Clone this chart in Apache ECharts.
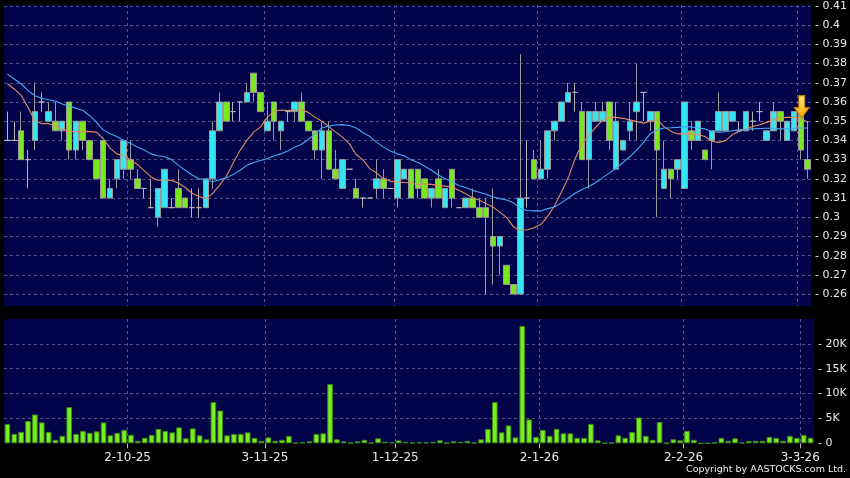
<!DOCTYPE html>
<html><head><meta charset="utf-8">
<script src="https://cdn.jsdelivr.net/npm/echarts@6/dist/echarts.min.js"></script>
<style>html,body{margin:0;padding:0;background:#000;}#c{width:850px;height:478px;}</style>
</head><body><div id="c"></div>
<script>
// trading days (D-M-YY)
const dates = [
'5-9-25','8-9-25','9-9-25','10-9-25','11-9-25','12-9-25','15-9-25','16-9-25','17-9-25','18-9-25','19-9-25',
'22-9-25','23-9-25','24-9-25','25-9-25','26-9-25','29-9-25','30-9-25',
'2-10-25','3-10-25','6-10-25','8-10-25','9-10-25','10-10-25','13-10-25','14-10-25','15-10-25','16-10-25','17-10-25',
'20-10-25','21-10-25','22-10-25','23-10-25','24-10-25','27-10-25','28-10-25','30-10-25','31-10-25',
'3-11-25','4-11-25','5-11-25','6-11-25','7-11-25','10-11-25','11-11-25','12-11-25','13-11-25','14-11-25',
'17-11-25','18-11-25','19-11-25','20-11-25','21-11-25','24-11-25','25-11-25','26-11-25','27-11-25',
'1-12-25','2-12-25','3-12-25','4-12-25','5-12-25','8-12-25','9-12-25','10-12-25','11-12-25','12-12-25',
'15-12-25','16-12-25','17-12-25','18-12-25','19-12-25','22-12-25','23-12-25','24-12-25','29-12-25','30-12-25','31-12-25',
'2-1-26','5-1-26','6-1-26','7-1-26','8-1-26','9-1-26','12-1-26','13-1-26','14-1-26','15-1-26','16-1-26',
'19-1-26','20-1-26','21-1-26','22-1-26','23-1-26','26-1-26','27-1-26','28-1-26','29-1-26','30-1-26',
'2-2-26','3-2-26','4-2-26','5-2-26','6-2-26','9-2-26','10-2-26','11-2-26','12-2-26','13-2-26','16-2-26','20-2-26',
'23-2-26','24-2-26','25-2-26','26-2-26','27-2-26','3-3-26','4-3-26'
];
const monthStarts = ['2-10-25','3-11-25','1-12-25','2-1-26','2-2-26','3-3-26'];

const open = [
0.34,0.34,0.345,0.33,0.34,0.36,0.35,0.35,0.345,0.36,
0.335,0.35,0.34,0.33,0.34,0.31,0.32,0.325,0.33,0.32,
0.315,0.305,0.30,0.305,0.305,0.315,0.31,0.305,0.305,0.305,
0.32,0.345,0.36,0.355,0.36,0.36,0.375,0.365,0.345,0.36,
0.345,0.355,0.355,0.36,0.35,0.345,0.335,0.345,0.325,0.315,
0.325,0.315,0.31,0.31,0.315,0.32,0.315,0.31,0.32,0.325,
0.325,0.32,0.31,0.32,0.305,0.325,0.305,0.305,0.31,0.305,
0.305,0.29,0.285,0.275,0.265,0.26,0.31,0.33,0.32,0.325,
0.345,0.35,0.36,0.365,0.355,0.33,0.35,0.35,0.36,0.325,
0.335,0.345,0.355,0.365,0.35,0.355,0.315,0.325,0.325,0.315,
0.345,0.34,0.335,0.34,0.345,0.345,0.35,0.345,0.345,0.35,
0.355,0.34,0.345,0.355,0.34,0.345,0.355,0.33];
const close = [
0.34,0.34,0.33,0.33,0.355,0.36,0.355,0.345,0.35,0.335,
0.35,0.34,0.33,0.32,0.31,0.315,0.33,0.34,0.325,0.315,
0.315,0.305,0.315,0.325,0.305,0.305,0.305,0.305,0.305,0.32,
0.345,0.36,0.35,0.355,0.36,0.365,0.365,0.355,0.35,0.35,
0.35,0.355,0.36,0.35,0.345,0.335,0.345,0.325,0.32,0.33,
0.325,0.31,0.31,0.31,0.32,0.315,0.315,0.33,0.325,0.31,
0.315,0.31,0.315,0.31,0.315,0.31,0.305,0.31,0.305,0.30,
0.30,0.285,0.29,0.265,0.26,0.31,0.31,0.32,0.325,0.345,
0.35,0.36,0.365,0.365,0.33,0.355,0.355,0.355,0.34,0.35,
0.34,0.35,0.36,0.365,0.355,0.335,0.325,0.32,0.33,0.36,
0.34,0.35,0.33,0.345,0.355,0.355,0.355,0.345,0.355,0.35,
0.355,0.345,0.355,0.35,0.35,0.355,0.335,0.325];
const low = [
0.34,0.34,0.33,0.315,0.335,0.355,0.35,0.345,0.34,0.33,
0.33,0.335,0.33,0.32,0.31,0.31,0.315,0.32,0.32,0.315,
0.31,0.305,0.295,0.305,0.305,0.305,0.305,0.30,0.30,0.305,
0.315,0.345,0.35,0.35,0.35,0.36,0.36,0.355,0.345,0.34,
0.335,0.35,0.35,0.35,0.345,0.33,0.32,0.325,0.32,0.315,
0.325,0.31,0.305,0.31,0.31,0.31,0.315,0.305,0.32,0.31,
0.31,0.31,0.305,0.31,0.305,0.305,0.305,0.305,0.305,0.30,
0.26,0.265,0.27,0.265,0.26,0.26,0.305,0.32,0.32,0.32,
0.34,0.35,0.36,0.355,0.33,0.315,0.35,0.35,0.335,0.325,
0.335,0.34,0.34,0.35,0.345,0.30,0.315,0.31,0.32,0.315,
0.335,0.34,0.33,0.325,0.345,0.345,0.35,0.345,0.345,0.345,
0.35,0.34,0.345,0.34,0.34,0.345,0.33,0.32];
const high = [
0.355,0.35,0.355,0.335,0.37,0.365,0.36,0.36,0.35,0.36,
0.35,0.35,0.34,0.33,0.34,0.32,0.33,0.34,0.34,0.325,
0.315,0.32,0.315,0.325,0.31,0.325,0.31,0.315,0.315,0.32,
0.35,0.365,0.36,0.36,0.36,0.37,0.375,0.365,0.36,0.36,
0.35,0.355,0.36,0.365,0.35,0.345,0.35,0.35,0.335,0.33,
0.325,0.32,0.31,0.31,0.33,0.325,0.315,0.33,0.325,0.325,
0.325,0.32,0.315,0.325,0.315,0.325,0.305,0.31,0.315,0.31,
0.31,0.315,0.29,0.275,0.265,0.385,0.34,0.335,0.34,0.345,
0.35,0.36,0.37,0.37,0.36,0.355,0.36,0.36,0.36,0.36,
0.34,0.36,0.38,0.365,0.355,0.355,0.34,0.325,0.33,0.36,
0.35,0.35,0.335,0.345,0.365,0.355,0.355,0.35,0.355,0.355,
0.36,0.345,0.36,0.355,0.35,0.355,0.355,0.35];

// moving averages
const ma10 = [
0.3695,0.3668,0.3635,0.3572,0.3505,0.3487,0.3488,0.3475,0.3458,0.3447,
0.3446,0.3447,0.3446,0.3443,0.341,0.336,0.333,0.332,0.3298,0.3275,
0.3243,0.321,0.3193,0.3193,0.3192,0.3178,0.3155,0.3125,0.3108,0.3098,
0.3123,0.3166,0.3212,0.3282,0.3347,0.340,0.3443,0.3469,0.352,0.3553,
0.3558,0.3555,0.3558,0.3558,0.3546,0.352,0.35,0.3472,0.3443,0.3417,
0.3382,0.3327,0.3299,0.3252,0.323,0.32,0.3188,0.3183,0.3181,0.3178,
0.3169,0.3174,0.3171,0.3166,0.3162,0.3157,0.314,0.3123,0.3102,0.3088,
0.3071,0.3053,0.3027,0.2998,0.295,0.2932,0.2935,0.2945,0.2963,0.3005,
0.306,0.313,0.3205,0.3305,0.338,0.3425,0.3468,0.3505,0.352,0.352,
0.3515,0.3507,0.3498,0.349,0.35,0.351,0.3472,0.3448,0.3434,0.3434,
0.3434,0.343,0.342,0.3396,0.339,0.3399,0.343,0.3448,0.346,0.3472,
0.3482,0.3494,0.3507,0.3517,0.352,0.352,0.3515,0.3495];
const ma20 = [
0.3745,0.372,0.3695,0.366,0.3633,0.362,0.3612,0.3605,0.359,0.3578,
0.3568,0.3557,0.353,0.3495,0.3455,0.3435,0.342,0.340,0.3385,0.3365,
0.335,0.333,0.332,0.3315,0.330,0.327,0.3245,0.322,0.320,0.3195,
0.3185,0.3195,0.3205,0.3222,0.3245,0.327,0.3285,0.3295,0.3305,0.332,
0.333,0.3345,0.3365,0.338,0.3405,0.3435,0.3465,0.3475,0.348,0.3482,
0.3478,0.3465,0.344,0.342,0.339,0.3365,0.3345,0.333,0.332,0.330,
0.3285,0.3265,0.3245,0.322,0.320,0.3185,0.3165,0.3155,0.314,0.313,
0.312,0.3105,0.3097,0.309,0.3075,0.3045,0.3035,0.3033,0.3033,0.3045,
0.3053,0.3075,0.310,0.3125,0.3145,0.316,0.318,0.3205,0.323,0.3255,
0.3285,0.3315,0.335,0.339,0.3435,0.3455,0.3465,0.3466,0.3468,0.3472,
0.347,0.3465,0.346,0.3445,0.3443,0.3445,0.345,0.3455,0.3458,0.346,
0.3462,0.3463,0.3463,0.346,0.346,0.3462,0.3465,0.3465];

const volume = [
3900,1900,2300,4500,5800,4200,2300,700,1500,7300,
1900,2500,2100,2400,4200,1600,2100,2700,1700,500,
1100,1700,2900,2500,2200,3200,1000,3000,1600,800,
8300,6600,1600,1900,1900,2200,1100,500,1200,500,
700,1500,100,200,400,1900,2000,11900,800,400,
100,400,700,100,1000,300,200,600,300,100,
200,200,300,600,50,400,300,500,100,800,
2900,8300,2200,3600,1200,23600,4800,1300,2700,1500,
2900,2000,2000,1100,1100,3900,600,50,100,1600,
1100,2300,5200,1500,700,4300,50,800,600,2500,
700,0,0,100,1100,500,1000,100,500,500,
500,1300,1100,500,1500,1100,1700,1100];

const priceTicks = [0.26,0.27,0.28,0.29,0.30,0.31,0.32,0.33,0.34,0.35,0.36,0.37,0.38,0.39,0.40,0.41];
const arrowDate = '3-3-26';
const copyright = 'Copyright by AASTOCKS.com Ltd.';

const ohlc = dates.map((d, i) => [open[i], close[i], low[i], high[i]]);
const isMonthStart = (idx, val) => monthStarts.indexOf(val) >= 0;
const gridColor = '#50528a';
const labelColor = '#e8e8e8';
const FONT = 'DejaVu Sans';
const panelBg = '#03034a';
const arrowIdx = dates.indexOf(arrowDate);

const chart = echarts.init(document.getElementById('c'), null, {renderer: 'canvas'});
const splitCfg = {show: true, interval: isMonthStart, showMaxLine: false, lineStyle: {color: gridColor, type: [3, 3], width: 1}};
chart.setOption({
  backgroundColor: '#000',
  animation: false,
  grid: [
    {left: 4, right: 36, top: 5, height: 301, show: true, backgroundColor: panelBg, borderWidth: 0},
    {left: 4, right: 36, top: 319, height: 124.3, show: true, backgroundColor: panelBg, borderWidth: 0}
  ],
  xAxis: [
    {type: 'category', gridIndex: 0, data: dates, boundaryGap: true,
     axisLine: {show: false}, axisTick: {show: false}, axisLabel: {show: false}, splitLine: splitCfg},
    {type: 'category', gridIndex: 1, data: dates, boundaryGap: true,
     axisLine: {show: false}, axisTick: {show: false}, axisLabel: {show: false}, splitLine: splitCfg},
    {type: 'category', gridIndex: 1, data: dates.concat(['']), boundaryGap: false, position: 'bottom',
     axisLine: {show: false},
     axisTick: {show: true, interval: isMonthStart, length: 5, lineStyle: {color: '#bbbbbb'}},
     axisLabel: {show: true, interval: isMonthStart, color: labelColor, fontSize: 12, fontFamily: FONT, margin: 9},
     splitLine: {show: false}}
  ],
  yAxis: [
    {type: 'value', gridIndex: 0, position: 'right', min: 0.2538, max: 0.4105, scale: true,
     axisLine: {show: false},
     axisTick: {show: false, customValues: priceTicks},
     axisLabel: {customValues: priceTicks, color: labelColor, fontSize: 11, fontFamily: FONT, margin: 4,
       formatter: v => '- ' + String(Math.round(v * 100) / 100)},
     splitLine: {show: true, lineStyle: {color: gridColor, type: [3, 3], width: 1}}},
    {type: 'value', gridIndex: 1, position: 'right', min: 0, max: 25000, interval: 5000,
     axisLine: {show: false}, axisTick: {show: false},
     axisLabel: {showMaxLabel: false, color: labelColor, fontSize: 11, fontFamily: FONT, margin: 4,
       formatter: v => v === 0 ? '- 0' : '- ' + (v / 1000) + 'K'},
     splitLine: {show: true, showMinLine: false, showMaxLine: false, lineStyle: {color: gridColor, type: [3, 3], width: 1}}}
  ],
  series: [
    {type: 'candlestick', name: 'price', xAxisIndex: 0, yAxisIndex: 0, data: ohlc, barWidth: 6,
     itemStyle: {color: '#36e6f0', color0: '#7ae81f', borderColor: '#9a9a9a', borderColor0: '#9a9a9a',
                 borderColorDoji: '#b4b4b4', borderWidth: 1},
     markPoint: {
       symbol: 'path://M4.5,0 L10.5,0 L10.5,12 L15,12 L7.5,22 L0,12 L4.5,12 Z',
       symbolSize: [15, 22], symbolOffset: [1, -5], silent: true,
       label: {show: false},
       itemStyle: {color: new echarts.graphic.LinearGradient(0, 0, 0, 1, [
         {offset: 0, color: '#ffe47a'}, {offset: 1, color: '#f2aa00'}]), borderColor: '#c97800', borderWidth: 1},
       data: [{coord: [arrowDate, high[arrowIdx]]}]
     }},
    {type: 'line', name: 'MA10', xAxisIndex: 0, yAxisIndex: 0, data: ma10, symbol: 'none', showSymbol: false,
     lineStyle: {color: '#e08e5e', width: 1.1}, z: 3},
    {type: 'line', name: 'MA20', xAxisIndex: 0, yAxisIndex: 0, data: ma20, symbol: 'none', showSymbol: false,
     lineStyle: {color: '#42aaf2', width: 1.1}, z: 3},
    {type: 'bar', name: 'volume', xAxisIndex: 1, yAxisIndex: 1, data: volume, barWidth: '82%',
     itemStyle: {color: '#78ee20', borderColor: '#3f8a12', borderWidth: 1}}
  ],
  graphic: [
    {type: 'text', right: 4, top: 465, style: {text: copyright, fill: '#f0f0f0', font: '9.5px "DejaVu Sans"'}}
  ]
});
</script></body></html>
